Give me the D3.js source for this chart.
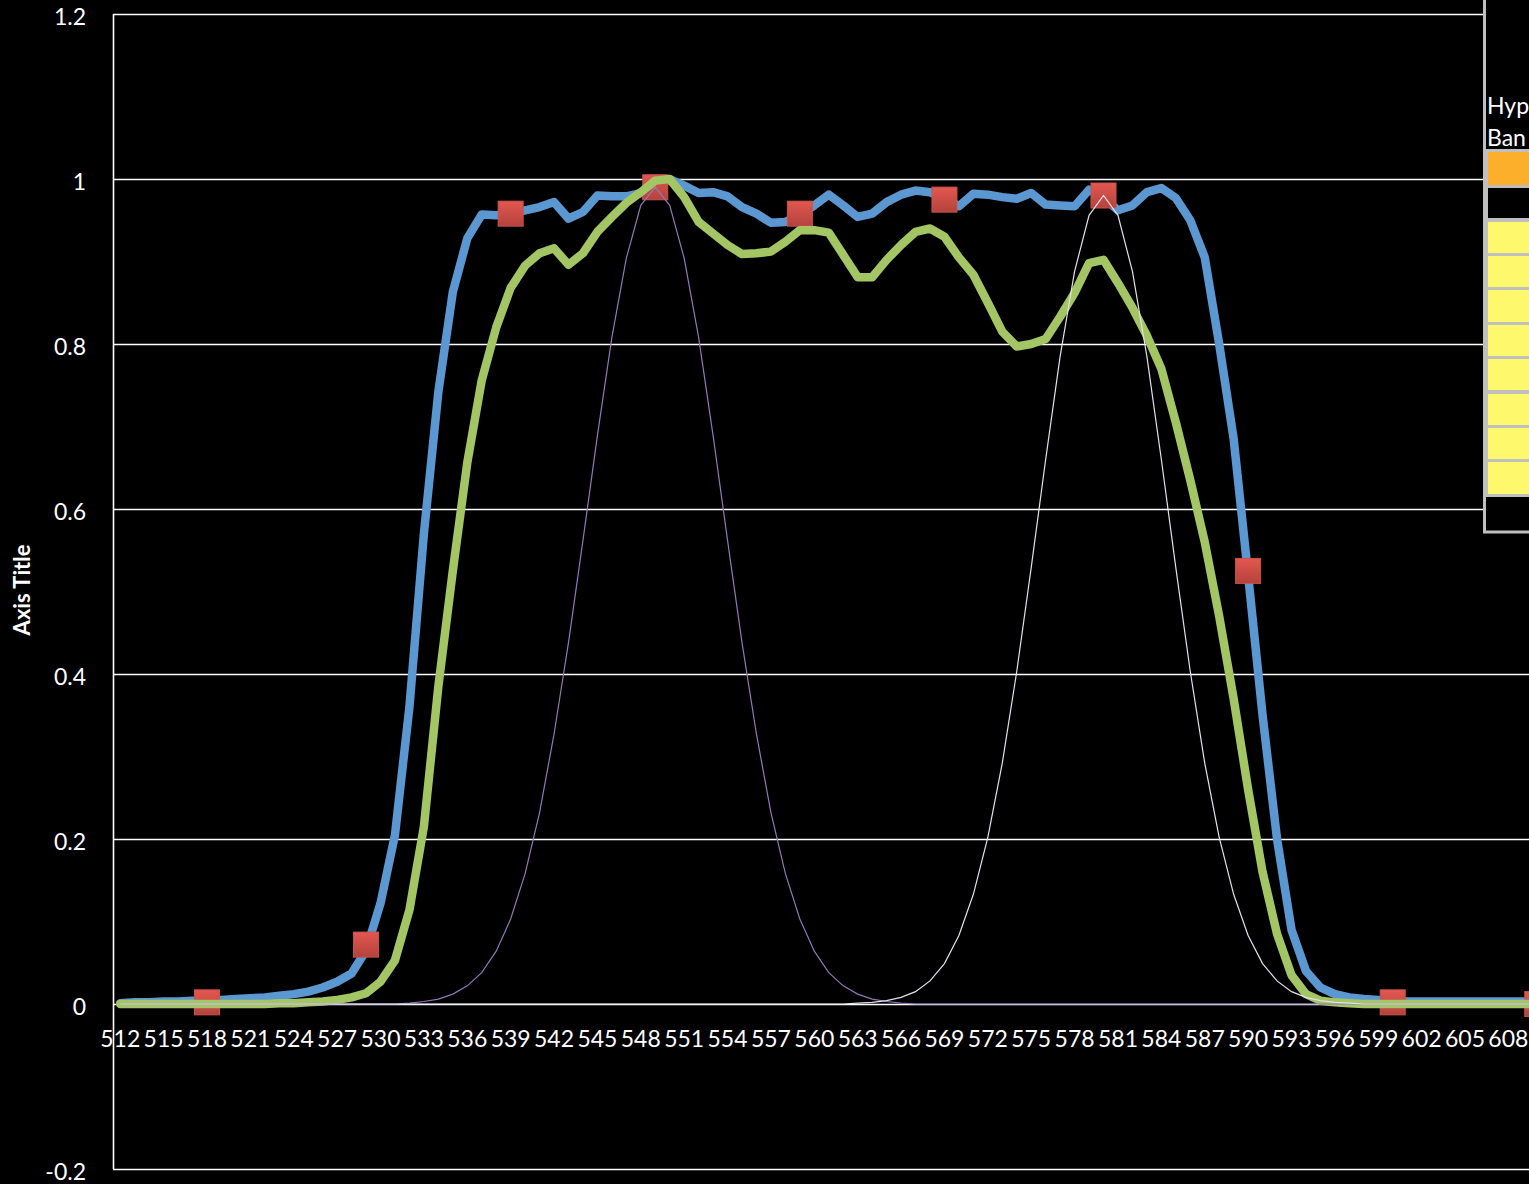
<!DOCTYPE html>
<meta charset="utf-8">

<style>
body { margin: 0; background: #000; overflow: hidden; }
svg { display: block; background: #000; }
text { font-family: Lato, "Open Sans", sans-serif; fill: #fff; }
</style>

<svg width="1529" height="1184"></svg>

<script src="https://cdnjs.cloudflare.com/ajax/libs/d3/7.8.5/d3.min.js"></script>

<script>
// wavelength categories (nm), one per point
var wavelengths = d3.range(512, 621)

// thick blue curve, 512 .. 620
var blueVals = [
  0.001, 0.002, 0.002, 0.003, 0.003, 0.004, 0.004, 0.005, 0.006, 0.007,
  0.008, 0.010, 0.012, 0.015, 0.020, 0.027, 0.037, 0.065, 0.122, 0.205,
  0.360, 0.570, 0.742, 0.863, 0.928, 0.957, 0.956, 0.958, 0.962, 0.966,
  0.972, 0.952, 0.960, 0.980, 0.979, 0.979, 0.983, 0.990, 1.000, 0.992,
  0.983, 0.984, 0.979, 0.966, 0.958, 0.947, 0.948, 0.956, 0.968, 0.981,
  0.968, 0.954, 0.958, 0.972, 0.981, 0.986, 0.984, 0.977, 0.967, 0.982,
  0.981, 0.978, 0.976, 0.983, 0.969, 0.968, 0.967, 0.987, 0.978, 0.962,
  0.968, 0.984, 0.989, 0.977, 0.950, 0.905, 0.800, 0.685, 0.520, 0.350,
  0.200, 0.090, 0.040, 0.020, 0.012, 0.008, 0.006, 0.005, 0.004, 0.003,
  0.003, 0.003, 0.003, 0.003, 0.003, 0.003, 0.003, 0.003, 0.003, 0.003,
  0.003, 0.003, 0.003, 0.003, 0.003, 0.003, 0.003, 0.003, 0.003
]

// thick green curve, 512 .. 620
var greenVals = [
  0, 0, 0, 0, 0, 0, 0, 0, 0, 0,
  0, 0.001, 0.001, 0.002, 0.003, 0.005, 0.008, 0.013, 0.027, 0.053,
  0.114, 0.215, 0.385, 0.525, 0.656, 0.756, 0.820, 0.868, 0.895, 0.910,
  0.916, 0.896, 0.910, 0.936, 0.954, 0.971, 0.984, 0.998, 1.000, 0.978,
  0.948, 0.934, 0.920, 0.909, 0.910, 0.912, 0.924, 0.938, 0.938, 0.935,
  0.908, 0.881, 0.881, 0.902, 0.920, 0.936, 0.940, 0.930, 0.905, 0.884,
  0.850, 0.815, 0.797, 0.800, 0.806, 0.833, 0.862, 0.898, 0.902, 0.874,
  0.844, 0.810, 0.770, 0.705, 0.635, 0.560, 0.470, 0.370, 0.260, 0.160,
  0.085, 0.035, 0.012, 0.004, 0.002, 0.001, 0, 0, 0, 0,
  0, 0, 0, 0, 0, 0, 0, 0, 0, 0,
  0, 0, 0, 0, 0, 0, 0, 0, 0
]

// red square markers
var markerNm  = [518, 529, 539, 549, 559, 569, 580, 590, 600, 610]
var markerVal = [0.002, 0.072, 0.958, 0.99, 0.958, 0.975, 0.98, 0.525, 0.002, 0.0]

// thin purple band (nonzero part), starts at 532
var bandAStart = 532
var bandAVals = [
  0.001, 0.003, 0.006, 0.012, 0.022, 0.038, 0.064, 0.103, 0.158, 0.232,
  0.327, 0.438, 0.562, 0.689, 0.808, 0.904, 0.968, 0.990, 0.968, 0.904,
  0.808, 0.689, 0.562, 0.438, 0.327, 0.232, 0.158, 0.103, 0.064, 0.038,
  0.022, 0.012, 0.006, 0.003, 0.001
]

// thin white band (nonzero part), starts at 563
var bandBStart = 563
var bandBVals = [
  0.001, 0.002, 0.004, 0.008, 0.015, 0.028, 0.049, 0.083, 0.133, 0.202,
  0.292, 0.403, 0.529, 0.660, 0.785, 0.888, 0.956, 0.980, 0.956, 0.888,
  0.785, 0.660, 0.529, 0.403, 0.292, 0.202, 0.133, 0.083, 0.049, 0.028,
  0.015, 0.008, 0.004, 0.002, 0.001
]

var yTicks = [-0.2, 0, 0.2, 0.4, 0.6, 0.8, 1, 1.2]
// every third wavelength is labelled; labels past 608 fall outside the picture
var xLabels = [512, 515, 518, 521, 524, 527, 530, 533, 536, 539, 542, 545, 548, 551, 554, 557,
  560, 563, 566, 569, 572, 575, 578, 581, 584, 587, 590, 593, 596, 599, 602, 605, 608]

var svg = d3.select('svg')
var W = 1529, H = 1184
// note: "top" is taken by window.top, so use plot* names
var plotLeft = 113, plotTop = 14, plotBottom = 1169
var step = 14.46

var x = d3.scaleBand().domain(wavelengths).range([plotLeft, plotLeft + wavelengths.length * step]).padding(0)
var y = d3.scaleLinear().domain([-0.2, 1.2]).range([plotBottom, plotTop])
function px(d) { return x(d) + x.bandwidth() / 2 }

function bandValue(start, vals) {
  return function (nm) {
    var i = nm - start
    return (i >= 0 && i < vals.length) ? vals[i] : 0
  }
}
var bandA = bandValue(bandAStart, bandAVals)
var bandB = bandValue(bandBStart, bandBVals)

// gridlines
svg.append('g')
  .selectAll('line')
  .data(yTicks)
  .enter().append('line')
    .attr('x1', plotLeft).attr('x2', W)
    .attr('y1', function (d) { return Math.round(y(d)) + 0.5 })
    .attr('y2', function (d) { return Math.round(y(d)) + 0.5 })
    .attr('stroke', '#fff')
    .attr('stroke-width', 1.6)

// y axis line
svg.append('line')
  .attr('x1', plotLeft + 0.5).attr('x2', plotLeft + 0.5)
  .attr('y1', plotTop).attr('y2', plotBottom)
  .attr('stroke', '#fff').attr('stroke-width', 1.6)

// y axis labels
var yAxis = svg.append('g')
  .attr('transform', 'translate(' + plotLeft + ',0)')
  .call(d3.axisLeft(y).tickValues(yTicks).tickSize(0).tickPadding(27)
    .tickFormat(function (d) { return String(+d.toFixed(1)) }))
yAxis.select('.domain').remove()
yAxis.selectAll('text').attr('font-size', 23).attr('font-family', 'Lato, sans-serif').attr('fill', '#fff').attr('dy', '0.45em')

// x axis labels
var xAxis = svg.append('g')
  .attr('transform', 'translate(0,' + y(0) + ')')
  .call(d3.axisBottom(x).tickValues(xLabels).tickSize(0).tickPadding(27))
xAxis.select('.domain').remove()
xAxis.selectAll('text').attr('font-size', 23).attr('font-family', 'Lato, sans-serif').attr('fill', '#fff')

// axis title
svg.append('text')
  .attr('transform', 'translate(30,' + 590 + ') rotate(-90)')
  .attr('text-anchor', 'middle')
  .attr('font-size', 22)
  .attr('font-weight', 'bold')
  .text('Axis Title')

var line = d3.line()
  .x(function (d) { return px(d[0]) })
  .y(function (d) { return y(d[1]) })

function pairs(fn) {
  return wavelengths.map(function (nm, i) { return [nm, fn(nm, i)] })
}

// blue
svg.append('path')
  .datum(pairs(function (nm, i) { return blueVals[i] }))
  .attr('d', line)
  .attr('fill', 'none')
  .attr('stroke', '#5B97D1')
  .attr('stroke-width', 8.5)
  .attr('stroke-linejoin', 'round')
  .attr('stroke-linecap', 'round')

// markers
var defs = svg.append('defs')
var grad = defs.append('linearGradient').attr('id', 'redgrad')
  .attr('x1', 0).attr('y1', 0).attr('x2', 0).attr('y2', 1)
grad.append('stop').attr('offset', '0%').attr('stop-color', '#E2584F')
grad.append('stop').attr('offset', '100%').attr('stop-color', '#B4423D')

svg.append('g')
  .selectAll('rect')
  .data(markerNm)
  .enter().append('rect')
    .attr('x', function (d) { return px(d) - 12.5 })
    .attr('y', function (d, i) { return y(markerVal[i]) - 12.5 })
    .attr('width', 25).attr('height', 25)
    .attr('fill', 'url(#redgrad)')
    .attr('stroke', '#C9544D')
    .attr('stroke-width', 1)

// green
svg.append('path')
  .datum(pairs(function (nm, i) { return greenVals[i] }))
  .attr('d', line)
  .attr('fill', 'none')
  .attr('stroke', '#A3C563')
  .attr('stroke-width', 8.5)
  .attr('stroke-linejoin', 'round')
  .attr('stroke-linecap', 'round')

// thin bands
svg.append('path')
  .datum(pairs(bandA))
  .attr('d', line)
  .attr('fill', 'none')
  .attr('stroke', '#9277B8')
  .attr('stroke-width', 1.2)

svg.append('path')
  .datum(pairs(bandB))
  .attr('d', line)
  .attr('fill', 'none')
  .attr('stroke', '#E4E0EC')
  .attr('stroke-width', 1.2)

// partly visible legend / table box on the right
var lg = svg.append('g')
lg.append('rect')
  .attr('x', 1484.5).attr('y', -10).attr('width', 80).attr('height', 542)
  .attr('fill', '#000').attr('stroke', '#BFBFBF').attr('stroke-width', 3)
lg.append('text').attr('x', 1487).attr('y', 114)
  .attr('font-family', '"Liberation Sans", Arial, sans-serif').attr('font-size', 23).text('Hyp')
lg.append('text').attr('x', 1487).attr('y', 146)
  .attr('font-family', '"Liberation Sans", Arial, sans-serif').attr('font-size', 23).text('Ban')

var legendRows = [
  { y0: 152, y1: 185, fill: '#FCAF2A' },
  { y0: 188, y1: 218, fill: '#000' },
  { y0: 222, y1: 253, fill: '#FEF86C' },
  { y0: 256, y1: 287, fill: '#FEF86C' },
  { y0: 290, y1: 322, fill: '#FEF86C' },
  { y0: 325, y1: 356, fill: '#FEF86C' },
  { y0: 359, y1: 390, fill: '#FEF86C' },
  { y0: 394, y1: 425, fill: '#FEF86C' },
  { y0: 428, y1: 459, fill: '#FEF86C' },
  { y0: 462, y1: 494, fill: '#FEF86C' }
]
lg.selectAll('rect.row')
  .data(legendRows)
  .enter().append('rect')
    .attr('class', 'row')
    .attr('x', 1486.5)
    .attr('y', function (d) { return d.y0 - 1.5 })
    .attr('width', 60)
    .attr('height', function (d) { return d.y1 - d.y0 + 3 })
    .attr('fill', function (d) { return d.fill })
    .attr('stroke', '#BFBFBF')
    .attr('stroke-width', 3)
</script>
